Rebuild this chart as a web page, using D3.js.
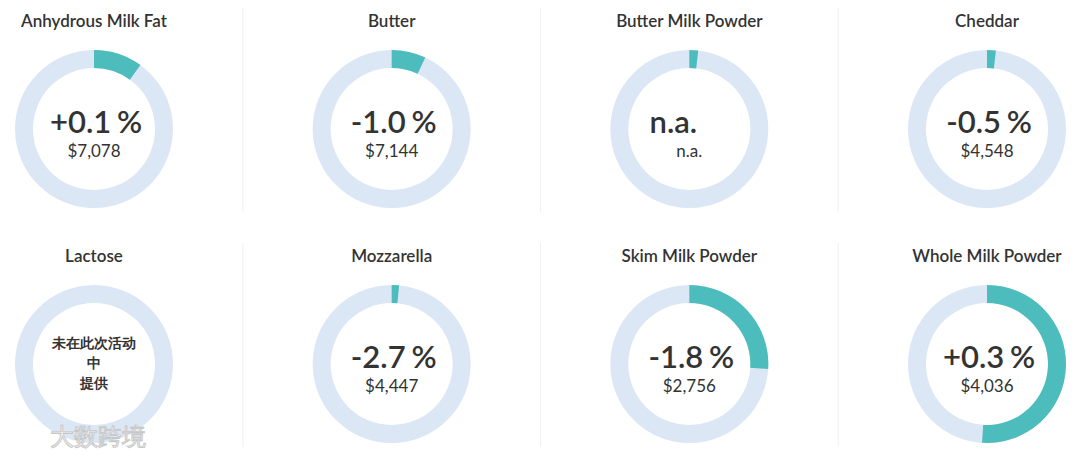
<!DOCTYPE html>
<html>
<head>
<meta charset="utf-8">
<script src="https://cdn.jsdelivr.net/npm/d3@7"></script>
<style>
  body { margin: 0; background: #fff; }
  text { font-family: Lato, "Noto Sans", sans-serif; fill: #333; }
</style>
</head>
<body>
<div id="chart"></div>
<script>
// products, their share (arc fraction), change and price
const products = ["Anhydrous Milk Fat", "Butter", "Butter Milk Powder", "Cheddar",
                  "Lactose", "Mozzarella", "Skim Milk Powder", "Whole Milk Powder"];
const shares = [0.10, 0.07, 0.018, 0.018, null, 0.015, 0.26, 0.51];
const changes = ["+0.1 %", "-1.0 %", "n.a.", "-0.5 %", null, "-2.7 %", "-1.8 %", "+0.3 %"];
const prices = ["$7,078", "$7,144", "n.a.", "$4,548", null, "$4,447", "$2,756", "$4,036"];
const notOffered = ["未在此次活动", "中", "提供"];

const width = 1080, height = 456;
const outerR = 79, innerR = 61;

const svg = d3.select("#chart").append("svg")
    .attr("width", width)
    .attr("height", height);

const x = d3.scalePoint().domain(d3.range(4)).range([94, 987]);
const y = d3.scalePoint().domain(d3.range(2)).range([129, 364]);
const step = x.step();

// light separators between columns
[0, 1].forEach(r => {
    svg.append("g").selectAll("line")
        .data(d3.range(3))
        .join("line")
        .attr("x1", d => x(d) + step / 2)
        .attr("x2", d => x(d) + step / 2)
        .attr("y1", y(r) - 121)
        .attr("y2", y(r) + 83)
        .attr("stroke", "#f0f0f0")
        .attr("stroke-width", 1);
});

const arc = d3.arc().innerRadius(innerR).outerRadius(outerR).startAngle(0);

const data = products.map((p, i) => ({
    name: p, share: shares[i], change: changes[i], price: prices[i],
    col: i % 4, row: Math.floor(i / 4)
}));

const cells = svg.selectAll("g.cell")
    .data(data)
    .join("g")
    .attr("class", "cell")
    .attr("transform", d => `translate(${x(d.col)},${y(d.row)})`);

cells.append("text")
    .attr("y", -102)
    .attr("text-anchor", "middle")
    .attr("font-size", 17)
    .attr("font-weight", 600)
    .text(d => d.name);

cells.append("path")
    .attr("d", arc({endAngle: 2 * Math.PI}))
    .attr("fill", "#dce7f5");

cells.filter(d => d.share != null).append("path")
    .attr("d", d => arc({endAngle: 2 * Math.PI * d.share}))
    .attr("fill", "#4dbcbd");

cells.filter(d => d.change != null).append("text")
    .attr("x", d => d.change === "n.a." ? -16 : 2)
    .attr("y", 4)
    .attr("text-anchor", "middle")
    .attr("font-size", 31)
    .attr("font-weight", 600)
    .attr("word-spacing", -2)
    .text(d => d.change);

cells.filter(d => d.price != null).append("text")
    .attr("y", 28)
    .attr("text-anchor", "middle")
    .attr("font-size", 17)
    .text(d => d.price);

cells.filter(d => d.change == null).selectAll("text.na")
    .data(notOffered)
    .join("text")
    .attr("class", "na")
    .attr("y", (d, i) => -16 + i * 20)
    .attr("text-anchor", "middle")
    .attr("font-family", "'Noto Sans CJK SC', sans-serif")
    .attr("font-size", 14)
    .attr("font-weight", 700)
    .text(d => d);

// watermark
svg.append("text")
    .attr("x", 50)
    .attr("y", 445)
    .attr("font-family", "'Noto Sans CJK SC', sans-serif")
    .attr("font-size", 24)
    .attr("stroke", "#c8c8c8")
    .attr("stroke-width", 1)
    .style("fill", "#fff")
    .text("大数跨境");
</script>
</body>
</html>
